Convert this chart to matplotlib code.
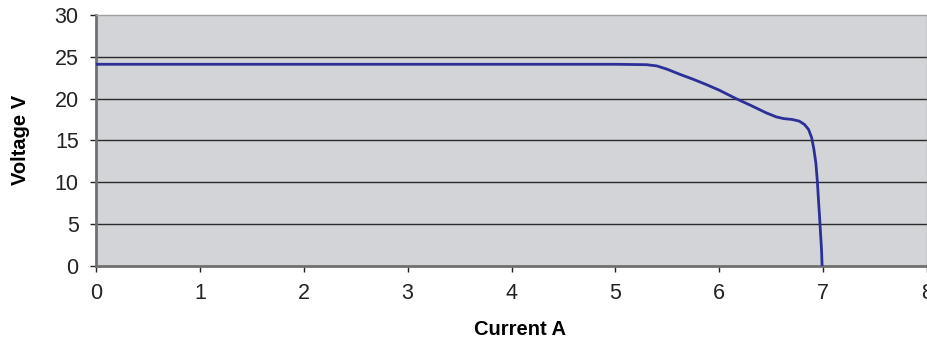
import numpy as np
import matplotlib.pyplot as plt

# I-V curve
current = [0.0, 1.0, 2.0, 3.0, 4.0, 5.0, 5.3, 5.4, 5.5, 5.62, 5.75, 5.87, 6.0, 6.16, 6.3,
           6.45, 6.55, 6.62, 6.7, 6.77, 6.82, 6.86, 6.89, 6.91, 6.93, 6.945, 6.955, 6.965,
           6.975, 6.985, 6.99]
voltage = [24.1, 24.1, 24.1, 24.1, 24.1, 24.1, 24.05, 23.9, 23.5, 22.9, 22.3, 21.7, 21.0,
           20.0, 19.2, 18.3, 17.8, 17.6, 17.5, 17.3, 16.9, 16.3, 15.3, 14.0, 12.3, 10.0,
           7.9, 6.0, 3.9, 1.8, 0.0]

x_ticks = [0, 1, 2, 3, 4, 5, 6, 7, 8]
y_ticks = [0, 5, 10, 15, 20, 25, 30]

plt.rcParams['font.family'] = ['Liberation Sans', 'DejaVu Sans']

fig = plt.figure(figsize=(9.27, 3.4), dpi=100)
ax = fig.add_axes([0.1036, 0.2185, 0.8964, 0.7375])
ax.set_facecolor('#d3d4d7')

ax.set_xlim(0, 8)
ax.set_ylim(0, 30)
ax.set_xticks(x_ticks)
ax.set_yticks(y_ticks)

for y in y_ticks[1:-1]:
    ax.axhline(y, color='#2a2a2a', linewidth=1.0, zorder=1)

ax.plot(current, voltage, color='#2b2f98', linewidth=2.0, zorder=3)

for side in ['left', 'bottom']:
    ax.spines[side].set_color('#707070')
    ax.spines[side].set_linewidth(2.0)
for side in ['top', 'right']:
    ax.spines[side].set_color('#a0a0a0')
    ax.spines[side].set_linewidth(1.0)

ax.tick_params(axis='both', labelsize=15.5, colors='#222222', length=4.5, width=1.0,
               direction='out', pad=8)

ax.set_xlabel('Current A', fontsize=14.5, fontweight='bold')
ax.set_ylabel('Voltage V', fontsize=14.5, fontweight='bold')
ax.xaxis.set_label_coords(0.51, -0.215)
ax.yaxis.set_label_coords(-0.08, 0.5)

fig.savefig('out.png', dpi=100)
